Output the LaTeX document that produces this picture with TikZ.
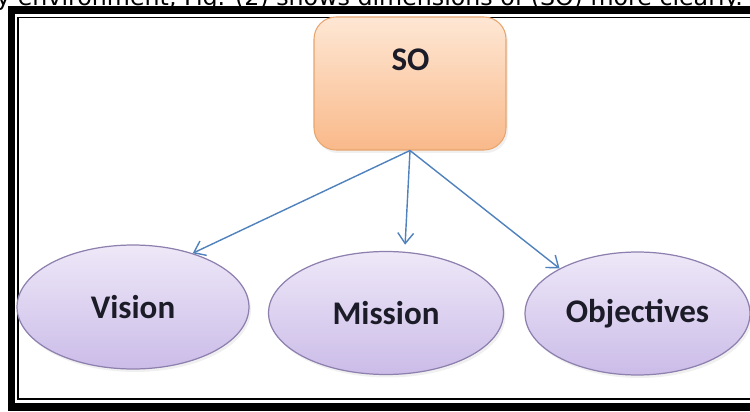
\documentclass[tikz,border=0pt]{standalone}
\usepackage{fontspec}
\setmainfont{Carlito}
\newfontfamily\captionfont{DejaVu Sans}
\usepackage{xcolor}
\usepackage{tikz}
\usetikzlibrary{shapes.geometric,arrows.meta,shadows}

\definecolor{soTop}{HTML}{FEE7D4}
\definecolor{soBottom}{HTML}{F9B98A}
\definecolor{soBorder}{HTML}{E8A56E}
\definecolor{goalTop}{HTML}{EEE8F8}
\definecolor{goalBottom}{HTML}{CBBCE8}
\definecolor{goalBorder}{HTML}{8E80AE}
\definecolor{linkBlue}{HTML}{4F81BD}
\definecolor{txtDark}{HTML}{1C1C28}

\begin{document}
\begin{tikzpicture}[x=0.02cm, y=-0.02cm,
    sobox/.style={draw=soBorder, line width=0.6pt, rounded corners=0.44cm,
        top color=soTop, bottom color=soBottom, inner sep=0pt,
        minimum width=3.84cm, minimum height=2.66cm,
        drop shadow={opacity=0.12, shadow xshift=0.04cm, shadow yshift=-0.06cm}},
    goal/.style={ellipse, draw=goalBorder, line width=0.7pt,
        top color=goalTop, bottom color=goalBottom, inner sep=0pt,
        font=\fontsize{18.8}{22}\selectfont\bfseries, text=txtDark,
        drop shadow={opacity=0.12, shadow xshift=0.04cm, shadow yshift=-0.06cm}},
    link/.style={draw=linkBlue, line width=0.8pt,
        -{Straight Barb[length=6pt,width=9pt]}}]
\useasboundingbox (0,0) rectangle (750,412);
\clip (0,0) rectangle (750,412);

    % Caption line of the page (cut off at the top)
    \node[anchor=base west, inner sep=0pt, font=\captionfont\fontsize{13.5}{15}\selectfont]
        (caption) at (-4,5.5) {y environment, Fig. (2) shows dimensions of (SO) more clearly.};

    % Frame
    \draw[line width=0.16cm] (780,10.5) -- (11.5,10.5) -- (11.5,407) -- (780,407);
    \draw[line width=0.9pt] (780,17.5) -- (18,17.5) -- (18,399) -- (780,399);

    % Top box
    \node[sobox, label={[font=\fontsize{18.8}{22}\selectfont\bfseries, text=txtDark,
        xshift=0.01cm, yshift=0.48cm]center:SO}] (so) at (410,83.5) {};

    % Dimensions
    \node[goal, minimum width=4.64cm, minimum height=2.48cm] (vision) at (133,307) {Vision};
    \node[goal, minimum width=4.7cm, minimum height=2.46cm] (mission) at (386,313) {Mission};
    \node[goal, minimum width=4.5cm, minimum height=2.46cm] (objectives) at (637.5,313.5) {Objectives};

    % Arrows
    \draw[link] (so.south) -- (vision.42);
    \draw[link, shorten >=0.14cm] (so.south) -- (mission.73);
    \draw[link] (so.south) -- (objectives.150);
\end{tikzpicture}
\end{document}
